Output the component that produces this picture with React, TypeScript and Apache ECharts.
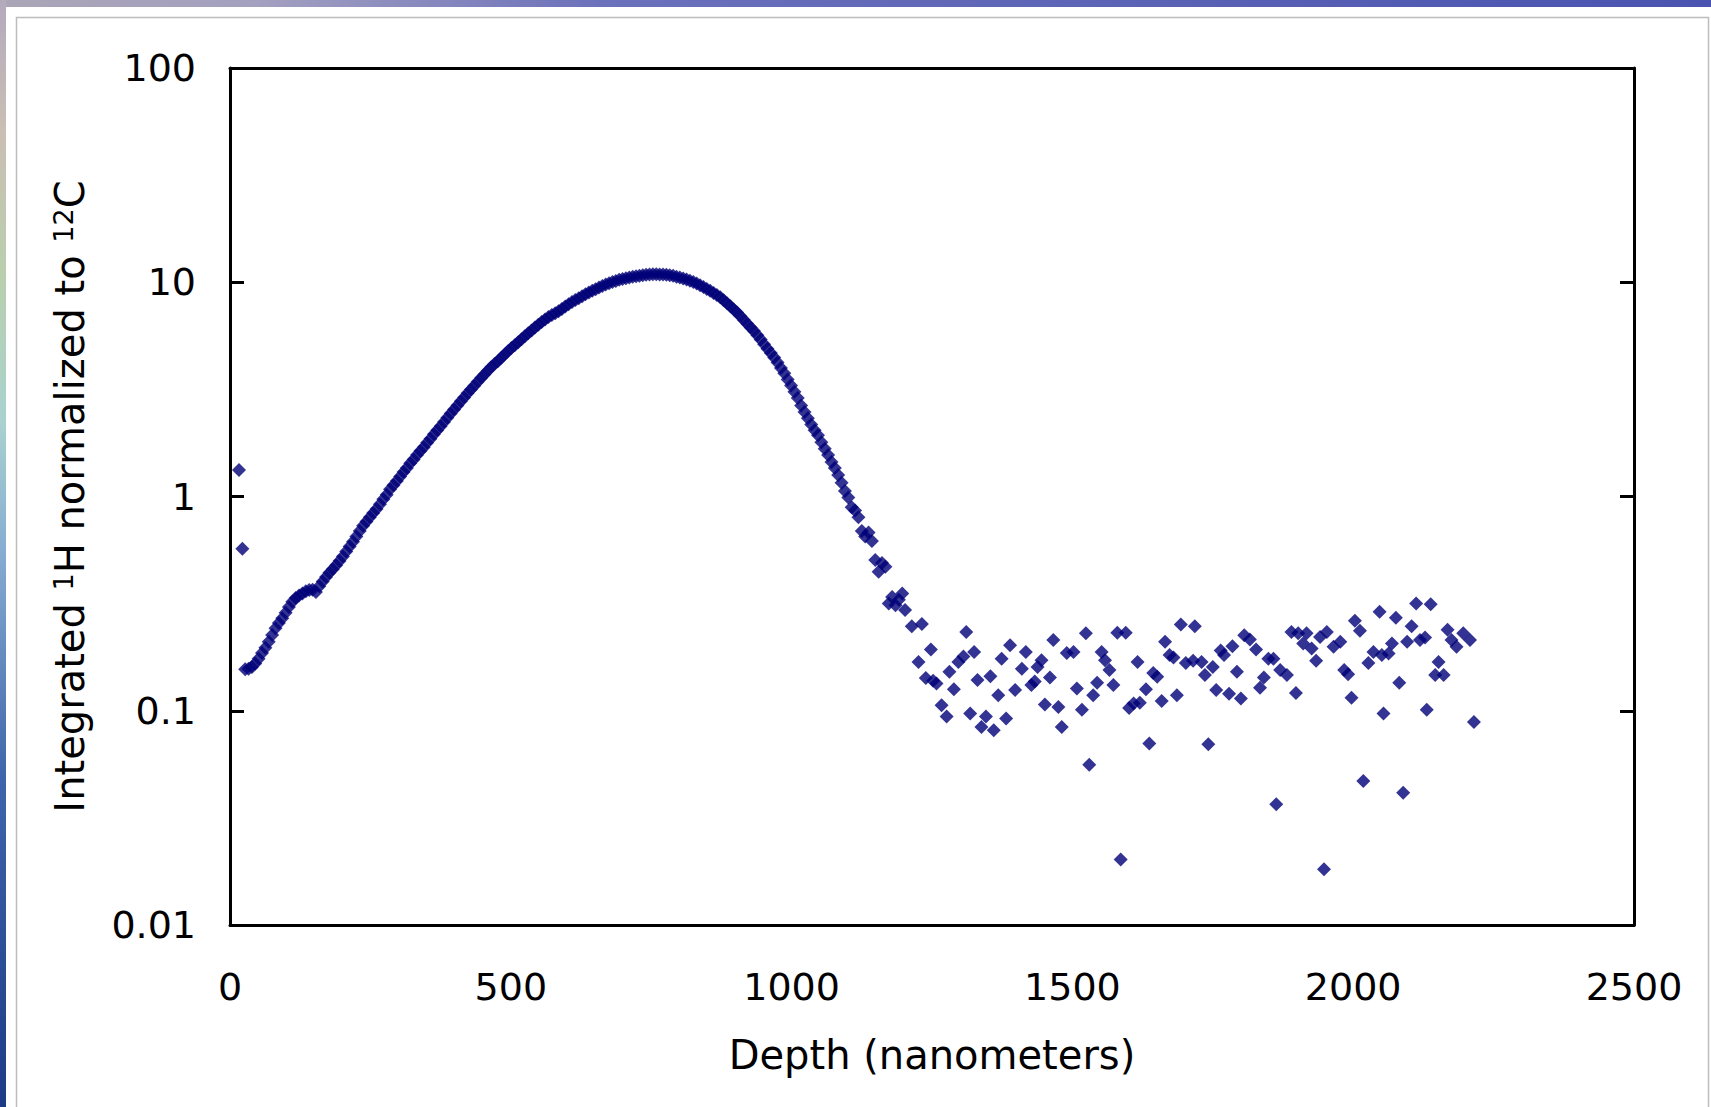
import React, { useEffect, useRef } from 'react';
import * as echarts from 'echarts';

const xTickLabels = ['0', '500', '1000', '1500', '2000', '2500'];
const yTickLabels = ['0.01', '0.1', '1', '10', '100'];

// Two near-surface points
const surfaceDepth = [16, 22];
const surfaceH = [1.33, 0.57];

// Continuous implantation profile (depth in nm, integrated 1H / 12C)
const profileDepth = [
  27, 33, 39, 45, 51, 57, 63, 69, 75, 81, 87, 93, 99, 105, 111, 117, 123, 129, 135, 141,
  147, 153, 159, 165, 171, 177, 183, 189, 195, 201, 207, 213, 219, 225, 231, 237, 243, 249, 255, 261,
  267, 273, 279, 285, 291, 297, 303, 309, 315, 321, 327, 333, 339, 345, 351, 357, 363, 369, 375, 381,
  387, 393, 399, 405, 411, 417, 423, 429, 435, 441, 447, 453, 459, 465, 471, 477, 483, 489, 495, 501,
  507, 513, 519, 525, 531, 537, 543, 549, 555, 561, 567, 573, 579, 585, 591, 597, 603, 609, 615, 621,
  627, 633, 639, 645, 651, 657, 663, 669, 675, 681, 687, 693, 699, 705, 711, 717, 723, 729, 735, 741,
  747, 753, 759, 765, 771, 777, 783, 789, 795, 801, 807, 813, 819, 825, 831, 837, 843, 849, 855, 861,
  867, 873, 879, 885, 891, 897, 903, 909, 915, 921, 927, 933, 939, 945, 951, 957, 963, 969, 975, 981,
  987, 993, 999, 1005, 1011, 1017, 1023, 1029, 1035, 1041, 1047, 1053, 1059, 1065, 1071, 1077, 1083, 1089, 1095, 1101,
  1107, 1113, 1119, 1125, 1131, 1137, 1143, 1149, 1155, 1161, 1167, 1173, 1179, 1185, 1191, 1197,
];
const profileH = [
  0.156, 0.157, 0.16, 0.166, 0.175, 0.186, 0.197, 0.21, 0.226, 0.243, 0.257, 0.27, 0.287, 0.305, 0.323, 0.336, 0.345, 0.353, 0.361, 0.366,
  0.367, 0.358, 0.381, 0.401, 0.421, 0.441, 0.458, 0.478, 0.5, 0.525, 0.553, 0.585, 0.615, 0.65, 0.69, 0.731, 0.765, 0.8, 0.838, 0.875,
  0.92, 0.97, 1.02, 1.08, 1.13, 1.18, 1.24, 1.3, 1.36, 1.43, 1.49, 1.56, 1.63, 1.7, 1.78, 1.86, 1.95, 2.04, 2.13, 2.23,
  2.33, 2.44, 2.55, 2.66, 2.78, 2.9, 3.03, 3.16, 3.29, 3.43, 3.57, 3.71, 3.86, 4.01, 4.15, 4.28, 4.44, 4.6, 4.77, 4.93,
  5.08, 5.25, 5.42, 5.6, 5.78, 5.96, 6.15, 6.34, 6.52, 6.7, 6.88, 7.03, 7.17, 7.32, 7.5, 7.7, 7.9, 8.08, 8.26, 8.43,
  8.6, 8.78, 8.95, 9.12, 9.28, 9.44, 9.6, 9.76, 9.9, 10.02, 10.14, 10.26, 10.36, 10.45, 10.53, 10.6, 10.66, 10.72, 10.78, 10.83,
  10.87, 10.9, 10.9, 10.88, 10.86, 10.83, 10.78, 10.71, 10.62, 10.52, 10.42, 10.3, 10.16, 10.02, 9.86, 9.68, 9.5, 9.31, 9.12, 8.92,
  8.72, 8.5, 8.24, 7.98, 7.72, 7.47, 7.22, 6.94, 6.66, 6.4, 6.15, 5.92, 5.66, 5.4, 5.14, 4.9, 4.68, 4.45, 4.22, 3.98,
  3.76, 3.52, 3.3, 3.08, 2.88, 2.66, 2.48, 2.32, 2.17, 2.04, 1.93, 1.79, 1.67, 1.56, 1.45, 1.36, 1.26, 1.16, 1.06, 0.99,
  0.89, 0.86, 0.8, 0.69, 0.65, 0.68, 0.62, 0.505, 0.445, 0.49, 0.47, 0.317, 0.34, 0.311, 0.33, 0.353,
];

// Noisy background tail beyond the implant
const tailDepth = [
  1202, 1214, 1232, 1226, 1239, 1248, 1252, 1258, 1267, 1276, 1281, 1289, 1297, 1306, 1311, 1318, 1325, 1331, 1338, 1346,
  1354, 1360, 1368, 1374, 1382, 1389, 1398, 1410, 1417, 1427, 1433, 1438, 1445, 1451, 1460, 1466, 1475, 1481, 1490, 1502,
  1508, 1517, 1524, 1530, 1537, 1544, 1552, 1558, 1566, 1573, 1580, 1586, 1595, 1601, 1609, 1616, 1620, 1631, 1637, 1644,
  1651, 1659, 1665, 1673, 1680, 1686, 1693, 1702, 1715, 1718, 1730, 1736, 1742, 1750, 1756, 1764, 1770, 1779, 1785, 1793,
  1800, 1806, 1816, 1827, 1834, 1841, 1849, 1858, 1863, 1870, 1882, 1890, 1898, 1902, 1911, 1917, 1926, 1934, 1941, 1948,
  1953, 1965, 1977, 1984, 1991, 1997, 2003, 2012, 2018, 2027, 2036, 2047, 2051, 2054, 2063, 2069, 2076, 2082, 2089, 2096,
  2104, 2112, 2119, 2128, 2131, 2138, 2146, 2152, 2161, 2168, 2175, 2184, 2196, 2208, 2215,
];
const tailH = [
  0.295, 0.248, 0.254, 0.169, 0.142, 0.193, 0.138, 0.134, 0.106, 0.094, 0.152, 0.126, 0.169, 0.179, 0.233, 0.097, 0.188, 0.139, 0.084, 0.094,
  0.145, 0.081, 0.118, 0.175, 0.092, 0.202, 0.125, 0.157, 0.188, 0.132, 0.137, 0.16, 0.172, 0.107, 0.143, 0.214, 0.104, 0.084, 0.186, 0.188,
  0.127, 0.101, 0.23, 0.056, 0.118, 0.135, 0.188, 0.172, 0.155, 0.132, 0.231, 0.0202, 0.231, 0.103, 0.108, 0.169, 0.109, 0.126, 0.0703, 0.15,
  0.144, 0.111, 0.21, 0.182, 0.177, 0.118, 0.253, 0.167, 0.171, 0.248, 0.169, 0.147, 0.0698, 0.16, 0.125, 0.191, 0.182, 0.12, 0.2, 0.152,
  0.114, 0.225, 0.215, 0.193, 0.128, 0.143, 0.175, 0.175, 0.0366, 0.155, 0.147, 0.233, 0.121, 0.23, 0.206, 0.23, 0.195, 0.171, 0.221, 0.0182,
  0.233, 0.199, 0.21, 0.155, 0.148, 0.115, 0.263, 0.236, 0.047, 0.167, 0.188, 0.29, 0.182, 0.097, 0.185, 0.206, 0.272, 0.135, 0.0414, 0.21,
  0.248, 0.317, 0.214, 0.22, 0.101, 0.314, 0.147, 0.169, 0.147, 0.239, 0.214, 0.199, 0.23, 0.214, 0.0887,
];

const FONT = "'DejaVu Sans', Verdana, sans-serif";

function zip(xs: number[], ys: number[]) {
  return xs.map((x, i) => [x, ys[i]]);
}

export default function App() {
  const ref = useRef<HTMLDivElement>(null);

  useEffect(() => {
    if (!ref.current) return;
    const chart = echarts.init(ref.current, null, { renderer: 'svg' });
    const data = [
      ...zip(surfaceDepth, surfaceH),
      ...zip(profileDepth, profileH),
      ...zip(tailDepth, tailH),
    ];
    const frameLine = { show: true, onZero: false, lineStyle: { color: '#000', width: 3 } };
    chart.setOption({
      animation: false,
      backgroundColor: '#ffffff',
      textStyle: { fontFamily: FONT },
      grid: { left: 230, right: 77, top: 68, bottom: 182, containLabel: false },
      xAxis: [
        {
          type: 'value',
          min: 0,
          max: 2500,
          interval: 500,
          position: 'bottom',
          axisLine: frameLine,
          axisTick: { show: false },
          splitLine: { show: false },
          axisLabel: {
            color: '#000',
            fontSize: 38,
            fontFamily: FONT,
            margin: 43,
            formatter: (_v: number, i: number) => xTickLabels[i],
          },
          name: 'Depth (nanometers)',
          nameLocation: 'middle',
          nameGap: 110,
          nameTextStyle: { color: '#000', fontSize: 40, fontFamily: FONT },
        },
        {
          type: 'value',
          min: 0,
          max: 2500,
          interval: 500,
          position: 'top',
          axisLine: frameLine,
          axisTick: { show: false },
          axisLabel: { show: false },
          splitLine: { show: false },
        },
      ],
      yAxis: [
        {
          type: 'log',
          logBase: 10,
          min: 0.01,
          max: 100,
          position: 'left',
          axisLine: frameLine,
          axisTick: { show: true, inside: true, length: 14, lineStyle: { color: '#000', width: 3 } },
          splitLine: { show: false },
          axisLabel: {
            color: '#000',
            fontSize: 38,
            fontFamily: FONT,
            margin: 34,
            formatter: (_v: number, i: number) => yTickLabels[i],
          },
          name: 'Integrated {sup|1}H normalized to {sup|12}C',
          nameLocation: 'middle',
          nameGap: 140,
          nameRotate: 90,
          nameTextStyle: {
            color: '#000',
            fontSize: 40,
            fontFamily: FONT,
            rich: {
              sup: { fontSize: 27, verticalAlign: 'top', color: '#000', fontFamily: FONT },
            },
          },
        },
        {
          type: 'log',
          logBase: 10,
          min: 0.01,
          max: 100,
          position: 'right',
          axisLine: frameLine,
          axisTick: { show: true, inside: true, length: 14, lineStyle: { color: '#000', width: 3 } },
          axisLabel: { show: false },
          splitLine: { show: false },
        },
      ],
      graphic: [
        {
          type: 'rect',
          silent: true,
          shape: { x: 0, y: 0, width: 1711, height: 7 },
          style: {
            fill: {
              type: 'linear', x: 0, y: 0, x2: 1, y2: 0,
              colorStops: [
                { offset: 0, color: '#aba5b6' },
                { offset: 0.15, color: '#a3a0c0' },
                { offset: 0.35, color: '#6b71bb' },
                { offset: 1, color: '#4a54b0' },
              ],
            },
          },
        },
        {
          type: 'rect',
          silent: true,
          shape: { x: 0, y: 0, width: 6, height: 1107 },
          style: {
            fill: {
              type: 'linear', x: 0, y: 0, x2: 0, y2: 1,
              colorStops: [
                { offset: 0, color: '#b3aabe' },
                { offset: 0.12, color: '#cabfb3' },
                { offset: 0.25, color: '#b9cfae' },
                { offset: 0.38, color: '#a9d2cf' },
                { offset: 0.5, color: '#86acd2' },
                { offset: 0.7, color: '#3f66aa' },
                { offset: 1, color: '#1d3a86' },
              ],
            },
          },
        },
        {
          type: 'rect',
          silent: true,
          shape: { x: 16.5, y: 17.5, width: 1692, height: 1095 },
          style: { fill: 'none', stroke: '#bdbdbd', lineWidth: 1.5 },
        },
      ],
      series: [
        {
          type: 'scatter',
          symbol: 'diamond',
          symbolSize: 14,
          xAxisIndex: 0,
          yAxisIndex: 0,
          itemStyle: { color: '#000078' },
          data,
        },
      ],
    });
    return () => chart.dispose();
  }, []);

  return (
    <div
      ref={ref}
      style={{ position: 'fixed', left: 0, top: 0, width: 1711, height: 1107, background: '#ffffff' }}
    />
  );
}
